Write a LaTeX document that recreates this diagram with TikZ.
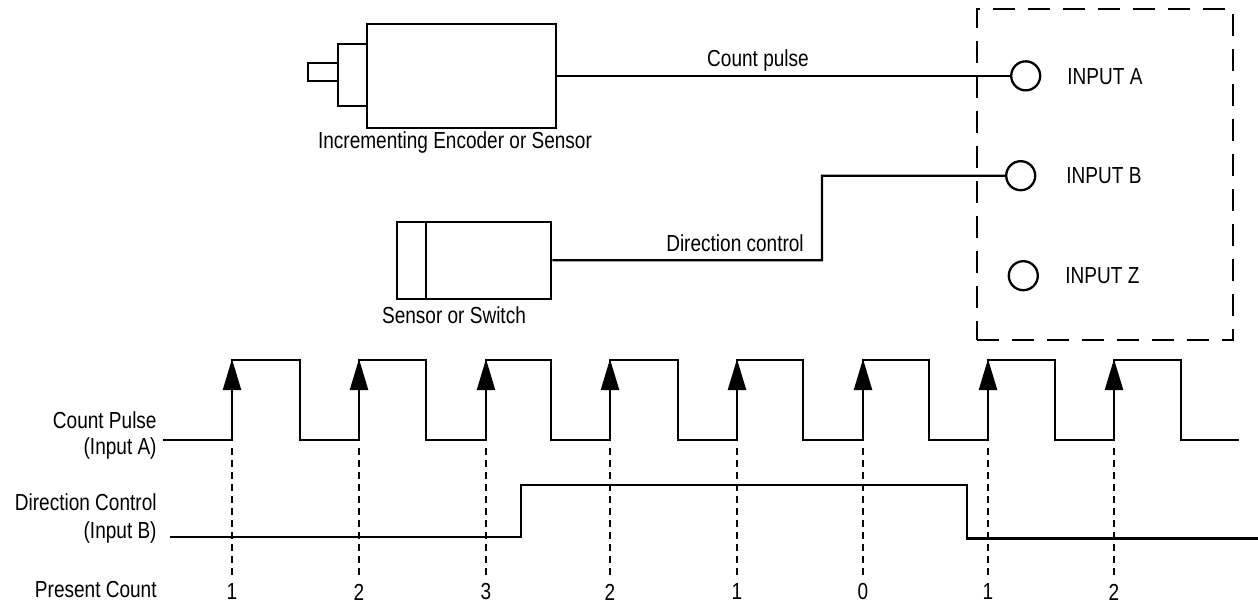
\documentclass[tikz,border=0pt]{standalone}
\usepackage{fontspec}
\setmainfont{Liberation Sans}[FakeStretch=0.82]
\usetikzlibrary{fit,arrows.meta}
\begin{document}
\begin{tikzpicture}[x=0.5pt,y=-0.5pt,
  wire/.style={line width=1.15pt},
  boxed/.style={draw,line width=1.15pt,inner sep=0pt},
  term/.style={draw,circle,line width=1.15pt,inner sep=0pt,minimum size=14.5pt},
  lbl/.style={font=\fontsize{11.6}{13}\selectfont,inner sep=0pt},
  guide/.style={line width=1pt,dash pattern=on 3.5pt off 2.5pt},
  edgearrow/.style={-{Triangle[length=15.5pt,width=9pt]},line width=1.15pt,shorten >=-0.5pt}]
\useasboundingbox (0,0) rectangle (1258,604);
% encoder
\node[boxed,fit={(366.7,24)(556,127.7)}] (enc) {};
\node[boxed,fit={(337.7,43.7)(366.7,106)}] (encstep) {};
\node[boxed,fit={(308.3,63.3)(337.7,81.3)}] (shaft) {};
\node[lbl] (enclbl) at (455,143) {Incrementing Encoder or Sensor};
% sensor
\node[boxed,fit={(397.3,222)(551.3,298.7)}] (sw) {};
\draw[wire] (425.7,222) -- (425.7,298.7);
\node[lbl] (swlbl) at (454,315) {Sensor or Switch};
% module
\node[draw,line width=1.15pt,dash pattern=on 11pt off 6.5pt,inner sep=0pt,fit={(976.7,9.3)(1233,340)}] (module) {};
\node[term] (ina) at (1025.7,75.85) {};
\node[term] (inb) at (1020.7,175.7) {};
\node[term] (inz) at (1023.3,275.7) {};
\node[lbl,anchor=west] (lA) at (1067,77) {INPUT A};
\node[lbl,anchor=west] (lB) at (1066,175.5) {INPUT B};
\node[lbl,anchor=west] (lZ) at (1065,275.5) {INPUT Z};
% wires
\draw[wire] (enc.east) -- (ina.west);
\node[lbl] (cp) at (758,61) {Count pulse};
\coordinate (bend) at (822,260.3);
\draw[wire] (sw.east) -- (bend) |- (inb.west);
\node[lbl] (dc) at (735,243) {Direction control};
% timing labels
\node[lbl,anchor=east] (t1) at (157,420) {Count Pulse};
\node[lbl,anchor=east] (t2) at (157,448) {(Input A)};
\node[lbl,anchor=east] (t3) at (157,502) {Direction Control};
\node[lbl,anchor=east] (t4) at (157,532) {(Input B)};
\node[lbl,anchor=east] (t5) at (157,590) {Present Count};
% count pulse waveform
\coordinate (a0) at (163,440);
\draw[wire] (a0) -- (232,440) -- (232,360) -- (300,360) -- (300,440)
  -- (359,440) -- (359,360) -- (426,360) -- (426,440)
  -- (486,440) -- (486,360) -- (551,360) -- (551,440)
  -- (610,440) -- (610,360) -- (678,360) -- (678,440)
  -- (737,440) -- (737,360) -- (803,360) -- (803,440)
  -- (863,440) -- (863,360) -- (929,360) -- (929,440)
  -- (988,440) -- (988,360) -- (1055,360) -- (1055,440)
  -- (1114,440) -- (1114,360) -- (1181,360) -- (1181,440) -- (1239,440);
\foreach \x in {232,359,486,610,737,863,988,1114}{
  \draw[edgearrow] (\x,400) -- (\x,360);
  \draw[guide] (\x,448) -- (\x,578);
}
% direction waveform
\draw[wire] (170,537) -- (520.7,537) -- (520.7,485) -- (966.7,485) -- (966.7,538.5) -- (1258,538.5);
% counts
\foreach \x/\n in {232/1,359/2,486/3,610/2,737/1,863/0,988/1,1114/2}{
  \node[lbl] at (\x,592) {\n};
}
\end{tikzpicture}
\end{document}
